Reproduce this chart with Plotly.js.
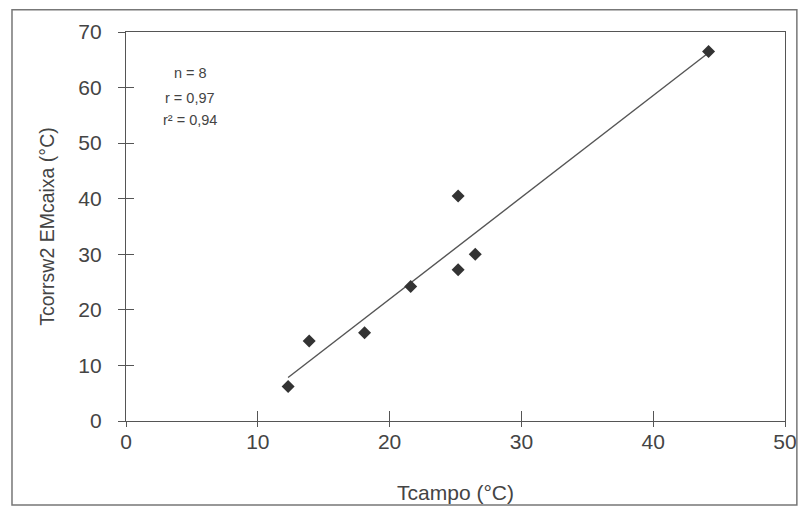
<!DOCTYPE html>
<html><head><meta charset="utf-8">
<script src="https://cdn.plot.ly/plotly-3.0.1.min.js"></script>
<style>body{margin:0;background:#fff}#c{width:804px;height:513px}</style>
</head><body><div id="c"></div>
<script>
const tCampo = [12.3, 13.9, 18.1, 21.6, 25.2, 25.2, 26.5, 44.2];
const tCorr  = [6.2, 14.4, 15.9, 24.2, 40.5, 27.2, 30.0, 66.5];
const statsText = ["n = 8", "r = 0,97", "r² = 0,94"];
const statsY = [62.6, 58.1, 54.2];
const xTicks = [0, 10, 20, 30, 40, 50];
const yTicks = [0, 10, 20, 30, 40, 50, 60, 70];

// least squares trend line (as in the spreadsheet chart)
const n = tCampo.length;
const mx = tCampo.reduce((a,b)=>a+b,0)/n, my = tCorr.reduce((a,b)=>a+b,0)/n;
let sxy=0,sxx=0; for(let i=0;i<n;i++){sxy+=(tCampo[i]-mx)*(tCorr[i]-my);sxx+=(tCampo[i]-mx)**2;}
const b = sxy/sxx, a = my-b*mx;
const xmin = Math.min(...tCampo), xmax = Math.max(...tCampo);

const fam = "Liberation Sans, Arial, sans-serif";
const col = "#444";
Plotly.newPlot("c", [
  {x:[xmin,xmax], y:[a+b*xmin, a+b*xmax], mode:"lines", line:{color:"#555", width:1.4}, hoverinfo:"skip"},
  {x:tCampo, y:tCorr, mode:"markers", marker:{symbol:"diamond", size:10, color:"#333"}},
  {x:[null], y:[null], xaxis:"x2", yaxis:"y2", mode:"markers", hoverinfo:"skip"}
], {
  width:804, height:513, showlegend:false,
  paper_bgcolor:"#fff", plot_bgcolor:"#fff",
  margin:{l:126, r:19, t:32, b:92},
  font:{family:fam, color:col},
  xaxis:{range:[0,50], tickvals:xTicks, showgrid:false, zeroline:false, showline:true, mirror:true,
         linecolor:"#555", linewidth:1.2, ticks:"inside", ticklen:10, tickcolor:"#555",
         ticklabelstandoff:2,
         tickfont:{size:21, family:fam, color:col},
         title:{text:"Tcampo (°C)", font:{size:21, family:fam, color:col}, standoff:32}},
  yaxis:{range:[0,70], tickvals:yTicks, showgrid:false, zeroline:false, showline:true, mirror:true,
         linecolor:"#555", linewidth:1.2, ticks:"outside", ticklen:7, tickcolor:"#555",
         ticklabelstandoff:12,
         tickfont:{size:21, family:fam, color:col},
         title:{text:"Tcorrsw2 EMcaixa (°C)", font:{size:19.5, family:fam, color:col}, standoff:18}},
  xaxis2:{range:[0,50], tickvals:xTicks, overlaying:"x", anchor:"y2", side:"bottom", ticks:"outside", ticklen:5,
          tickcolor:"#555", showticklabels:false, showgrid:false, zeroline:false, showline:false},
  yaxis2:{range:[0,70], tickvals:yTicks, overlaying:"y", anchor:"x2", side:"left", ticks:"inside", ticklen:8,
          tickcolor:"#555", showticklabels:false, showgrid:false, zeroline:false, showline:false},
  annotations: statsText.map((t,i)=>({xref:"x", yref:"y", x:4.86, y:statsY[i], text:t, showarrow:false,
                align:"center", font:{size:14.5, family:fam, color:col}})),
  shapes:[{type:"rect", xref:"paper", yref:"paper", x0:-0.173, x1:1.018, y0:-0.216, y1:1.057,
           line:{color:"#777", width:1.5}}]
}, {displayModeBar:false, staticPlot:true});
</script></body></html>
